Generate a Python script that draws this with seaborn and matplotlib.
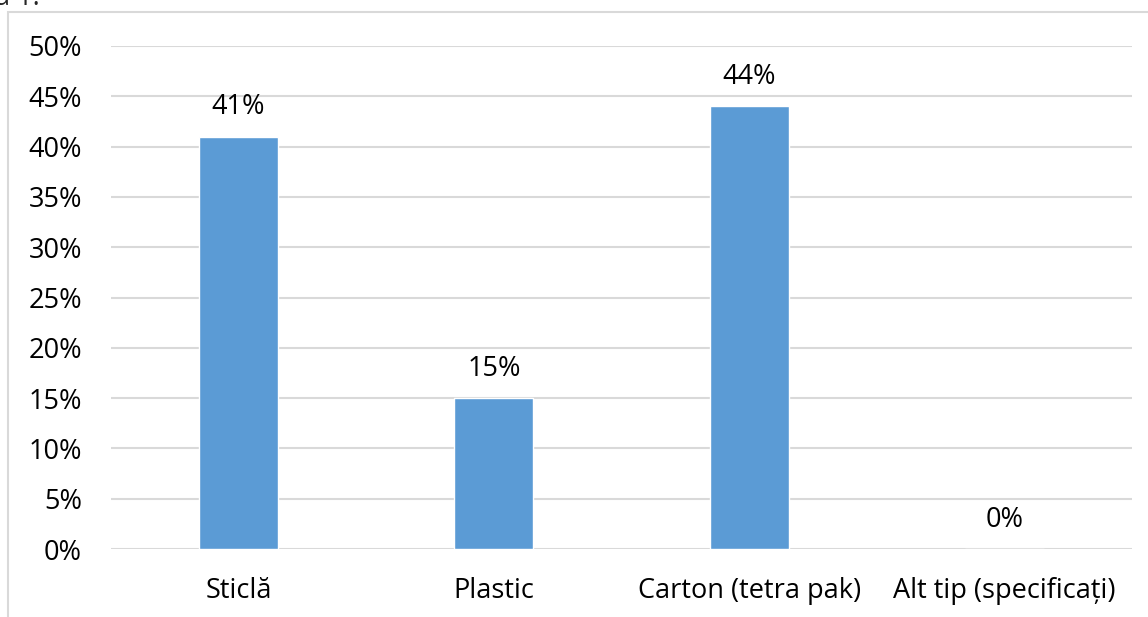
import matplotlib
matplotlib.use("Agg")
import matplotlib.pyplot as plt
from matplotlib.patches import Rectangle
import seaborn as sns
import pandas as pd

categories = ["Sticlă", "Plastic", "Carton (tetra pak)", "Alt tip (specificați)"]
values = [41, 15, 44, 0]
y_ticks = [0, 5, 10, 15, 20, 25, 30, 35, 40, 45, 50]
y_tick_labels = [f"{t}%" for t in y_ticks]

df = pd.DataFrame({"tip": categories, "procent": values})

sns.set_theme(style="white")
plt.rcParams["font.family"] = ["Open Sans", "DejaVu Sans"]

W, H = 1148, 617
FS = 19.5
fig = plt.figure(figsize=(W / 100, H / 100), dpi=100)
ax = fig.add_axes([111 / W, 1 - 549 / H, (1132 - 111) / W, (549 - 46) / H])

sns.barplot(data=df, x="tip", y="procent", color="#5b9bd5", saturation=1,
            width=0.31, ax=ax, zorder=3)

ax.set_xlim(-0.5, 3.5)
ax.set_ylim(0, 50)
ax.set_yticks(y_ticks)
ax.set_yticklabels(y_tick_labels, fontsize=FS, color="#000000")
ax.tick_params(axis="y", length=0, pad=21)
ax.tick_params(axis="x", length=0, pad=20, labelsize=FS, labelcolor="#000000")
ax.set_xlabel("")
ax.set_ylabel("")
ax.yaxis.grid(True, color="#d9d9d9", linewidth=1.5, zorder=0)
ax.xaxis.grid(False)
for s in ax.spines.values():
    s.set_visible(False)

for i, v in enumerate(values):
    ax.annotate(f"{v}%", xy=(i, v), xytext=(0, 11), textcoords="offset points",
                ha="center", va="bottom", fontsize=FS, color="#000000")

# outer chart frame
fig.add_artist(Rectangle((8 / W, -0.1), 1.2, 1 - 12 / H + 0.1,
                         transform=fig.transFigure, fill=False,
                         edgecolor="#d9d9d9", linewidth=1.5))
fig.text(40 / W, 1 - 5 / H, "ă 1.", fontsize=FS, ha="right", va="baseline")

fig.savefig("out.png", dpi=100, facecolor="white")
